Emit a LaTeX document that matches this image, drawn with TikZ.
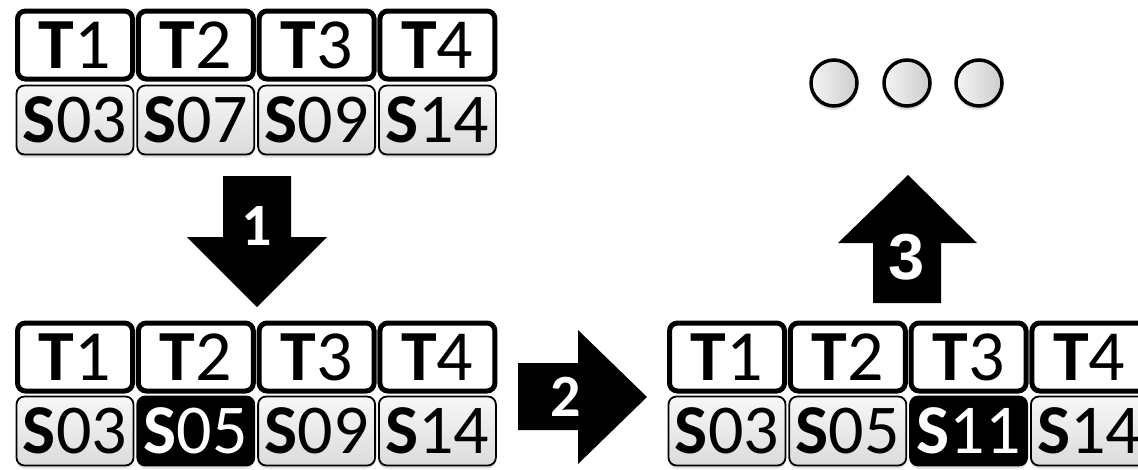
\documentclass[tikz,border=0pt]{standalone}
\usepackage{fontspec}
\setmainfont{Carlito}
\newfontfamily\arialfont{Liberation Sans}
\usetikzlibrary{shadows}
\begin{document}
\begin{tikzpicture}[x=1pt,y=-1pt,
  tbox/.style={draw=black, line width=5pt, fill=white, rounded corners=8pt,
    minimum width=115pt, minimum height=68pt, inner sep=0pt,
    font=\fontsize{72}{72}\selectfont},
  sbox/.style={draw=black, line width=1.8pt, rounded corners=8pt,
    top color=gray!6, bottom color=gray!28,
    drop shadow={opacity=0.25, shadow xshift=0pt, shadow yshift=-3pt},
    minimum width=117pt, minimum height=69pt, inner sep=0pt,
    font=\fontsize{70}{70}\selectfont},
  sdark/.style={sbox, top color=black, bottom color=black, text=white},
  bigarrow/.style={fill=black, draw=none},
  arrlabel/.style={text=white, font=\fontsize{60}{60}\selectfont\bfseries, inner sep=0pt},
  dot/.style={circle, draw=black, line width=3.5pt, left color=gray!8, right color=gray!40,
    minimum size=46pt, inner sep=0pt,
    drop shadow={opacity=0.25, shadow xshift=0pt, shadow yshift=-4pt}}
]
\clip (0,0) rectangle (1138,469);
\fill[white] (0,0) rectangle (1138,469);

% top-left group
\foreach \i/\x/\s in {1/75/03,2/195.8/07,3/316.6/09,4/437.4/14}{
  \node[sbox] (as\i) at (\x,120) {\textbf{S}\s};
  \node[tbox] (at\i) at (\x,45) {\textbf{T}\i};
}

% bottom-left group
\node[sbox]  (bs1) at (75,431)    {\textbf{S}03};
\node[sdark] (bs2) at (195.8,431) {\textbf{S}05};
\node[sbox]  (bs3) at (316.6,431) {\textbf{S}09};
\node[sbox]  (bs4) at (437.4,431) {\textbf{S}14};
\foreach \i/\x in {1/75,2/195.8,3/316.6,4/437.4}{
  \node[tbox] (bt\i) at (\x,357) {\textbf{T}\i};
}

% bottom-right group
\node[sbox]  (cs1) at (727,431)  {\textbf{S}03};
\node[sbox]  (cs2) at (847.8,431) {\textbf{S}05};
\node[sdark] (cs3) at (968.6,431) {\textbf{S}11};
\node[sbox]  (cs4) at (1089.4,431) {\textbf{S}14};
\foreach \i/\x in {1/727,2/847.8,3/968.6,4/1089.4}{
  \node[tbox] (ct\i) at (\x,357) {\textbf{T}\i};
}

% circles
\node[dot] (d1) at (834,83) {};
\node[dot] (d2) at (907,83) {};
\node[dot] (d3) at (979,83) {};

% arrow 1 (down)
\fill[bigarrow] (223,176) -- (291,176) -- (291,237) -- (327,237) -- (257,307)
  -- (187,237) -- (223,237) -- cycle;
\node[arrlabel] (l1) at (257,226) {1};

% arrow 2 (right)
\fill[bigarrow] (518,363) -- (578,363) -- (578,330) -- (647,397) -- (578,464)
  -- (578,430) -- (518,430) -- cycle;
\node[arrlabel] (l2) at (566,397) {2};

% arrow 3 (up)
\fill[bigarrow] (908,175) -- (977,243) -- (941,243) -- (941,303) -- (873,303)
  -- (873,243) -- (838,243) -- cycle;
\node[text=white, font=\fontsize{65}{65}\selectfont\arialfont\bfseries, inner sep=0pt] (l3) at (907,257) {3};
\end{tikzpicture}
\end{document}
